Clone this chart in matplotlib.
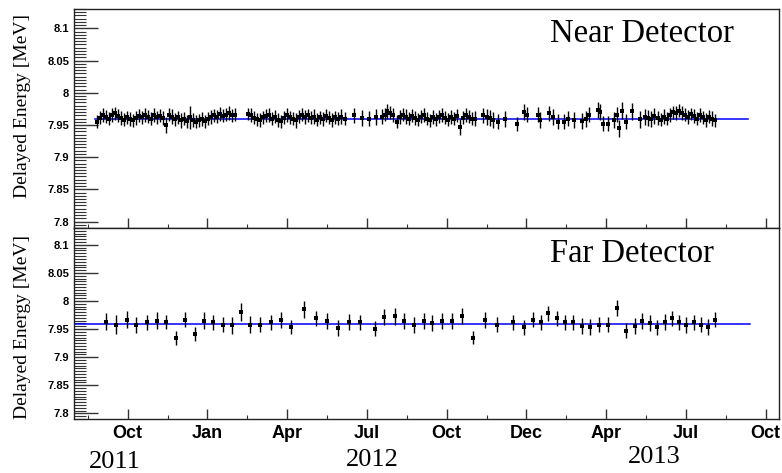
import matplotlib
matplotlib.use("Agg")
import matplotlib.pyplot as plt
from matplotlib.ticker import MultipleLocator, FixedLocator
import matplotlib.transforms as mtrans

# ---------------- data (x in months since 2011-07-01) ----------------
near_t = [1.85, 1.95, 2.08, 2.18, 2.30, 2.41, 2.51, 2.64, 2.75, 2.86, 2.97, 3.09,
          3.20, 3.31, 3.43, 3.53, 3.65, 3.77, 3.88, 3.99, 4.10, 4.22, 4.33, 4.44,
          4.55, 4.67, 4.78, 4.89, 5.01, 5.12, 5.23, 5.34, 5.46, 5.57, 5.68, 5.80,
          5.91, 6.02, 6.13, 6.25, 6.36, 6.47, 6.59, 6.70, 6.81, 6.92, 7.04,
          7.53, 7.64, 7.75, 7.86, 7.98, 8.09, 8.20, 8.32, 8.43, 8.54, 8.65, 8.77,
          8.88, 8.99, 9.11, 9.22, 9.33, 9.44, 9.56, 9.67, 9.78, 9.90, 10.01, 10.12,
          10.23, 10.35, 10.46, 10.57, 10.69, 10.80, 10.91, 11.02, 11.17,
          11.51, 11.81, 12.08, 12.34,
          12.57, 12.68, 12.75, 12.86, 12.98, 13.13, 13.24, 13.36, 13.47, 13.58,
          13.69, 13.81, 13.92, 14.03, 14.15, 14.26, 14.37, 14.48, 14.60, 14.71,
          14.82, 14.93, 15.05, 15.16, 15.27, 15.39, 15.50, 15.61, 15.73, 15.84, 15.95,
          16.06, 16.36, 16.51, 16.63, 16.74, 16.93, 17.19, 17.64, 17.91, 18.02,
          18.43, 18.51, 18.85, 19.00, 19.19, 19.41, 19.56,
          19.79, 20.09, 20.24, 20.36, 20.69, 20.77, 20.88, 21.07, 21.29, 21.41,
          21.48, 21.59, 21.74, 21.97, 22.27, 22.46, 22.57, 22.68, 22.80,
          22.95, 23.06, 23.17, 23.29, 23.40, 23.51, 23.62, 23.74, 23.85, 23.96,
          24.07, 24.19, 24.30, 24.41, 24.53, 24.64, 24.75, 24.86, 24.98, 25.09]
near_e = [7.955, 7.961, 7.966, 7.963, 7.960, 7.966, 7.968, 7.964, 7.961, 7.958, 7.962, 7.959,
          7.957, 7.961, 7.964, 7.962, 7.966, 7.963, 7.960, 7.965, 7.962, 7.964, 7.961, 7.950,
          7.966, 7.963, 7.959, 7.962, 7.957, 7.960, 7.956, 7.962, 7.958, 7.955, 7.957, 7.959,
          7.956, 7.960, 7.962, 7.965, 7.963, 7.967, 7.964, 7.966, 7.968, 7.965, 7.966,
          7.967, 7.965, 7.961, 7.959, 7.958, 7.962, 7.964, 7.966, 7.960, 7.963, 7.958, 7.956,
          7.961, 7.965, 7.962, 7.960, 7.957, 7.963, 7.966, 7.962, 7.965, 7.961, 7.963, 7.958,
          7.962, 7.959, 7.964, 7.961, 7.958, 7.962, 7.960, 7.963, 7.960,
          7.965, 7.961, 7.960, 7.962,
          7.963, 7.966, 7.971, 7.969, 7.965, 7.955, 7.962, 7.966, 7.963, 7.960,
          7.964, 7.961, 7.958, 7.963, 7.965, 7.960, 7.957, 7.962, 7.959, 7.963,
          7.966, 7.961, 7.958, 7.962, 7.960, 7.964, 7.947, 7.961, 7.966, 7.963, 7.960,
          7.960, 7.965, 7.962, 7.961, 7.958, 7.955, 7.959, 7.952, 7.970, 7.966,
          7.966, 7.958, 7.968, 7.962, 7.955, 7.955, 7.960,
          7.958, 7.956, 7.959, 7.966, 7.973, 7.970, 7.952, 7.952, 7.958, 7.966,
          7.945, 7.972, 7.955, 7.971, 7.959, 7.962, 7.961, 7.959, 7.964,
          7.961, 7.958, 7.963, 7.960, 7.966, 7.970, 7.968, 7.972, 7.969, 7.966,
          7.962, 7.967, 7.964, 7.960, 7.966, 7.962, 7.958, 7.963, 7.960, 7.957]
near_err = [0.010, 0.010, 0.011, 0.010, 0.010, 0.011, 0.010, 0.010, 0.011, 0.010, 0.010, 0.011,
            0.010, 0.011, 0.010, 0.010, 0.011, 0.010, 0.010, 0.011, 0.010, 0.010, 0.011, 0.013,
            0.010, 0.011, 0.010, 0.010, 0.011, 0.010, 0.010, 0.018, 0.011, 0.010, 0.010, 0.011,
            0.010, 0.010, 0.011, 0.010, 0.010, 0.011, 0.010, 0.010, 0.011, 0.010, 0.010,
            0.010, 0.011, 0.010, 0.010, 0.011, 0.010, 0.010, 0.011, 0.010, 0.010, 0.011, 0.010,
            0.010, 0.011, 0.010, 0.010, 0.011, 0.010, 0.010, 0.011, 0.010, 0.010, 0.011, 0.010,
            0.010, 0.011, 0.010, 0.010, 0.011, 0.010, 0.010, 0.011, 0.010,
            0.012, 0.012, 0.012, 0.012,
            0.011, 0.010, 0.011, 0.010, 0.011, 0.010, 0.011, 0.010, 0.011, 0.010,
            0.010, 0.011, 0.010, 0.010, 0.011, 0.010, 0.010, 0.011, 0.010, 0.010,
            0.011, 0.010, 0.010, 0.011, 0.010, 0.010, 0.013, 0.010, 0.011, 0.010, 0.010,
            0.012, 0.012, 0.012, 0.012, 0.012, 0.012, 0.012, 0.011, 0.012, 0.012,
            0.012, 0.012, 0.012, 0.012, 0.012, 0.012, 0.012,
            0.012, 0.012, 0.012, 0.012, 0.012, 0.012, 0.012, 0.012, 0.012, 0.012,
            0.013, 0.013, 0.012, 0.013, 0.013, 0.012, 0.012, 0.012, 0.012,
            0.011, 0.010, 0.011, 0.010, 0.011, 0.010, 0.011, 0.010, 0.011, 0.010,
            0.011, 0.010, 0.011, 0.010, 0.011, 0.010, 0.011, 0.010, 0.011, 0.010]

far_t = [2.18, 2.55, 2.96, 3.30, 3.71, 4.09, 4.43, 4.80, 5.17, 5.52, 5.88, 6.22,
         6.58, 6.93, 7.26, 7.61, 7.98, 8.40, 8.76, 9.15, 9.64, 10.07, 10.48, 10.91,
         11.33, 11.73, 12.29, 12.66, 13.06, 13.39, 13.77, 14.15, 14.45, 14.83, 15.20,
         15.59, 15.98, 16.43, 16.89, 17.51, 17.91, 18.25, 18.53, 18.81, 19.14, 19.45,
         19.75, 20.08, 20.39, 20.72, 21.07, 21.41, 21.74, 22.08, 22.35, 22.64, 22.90,
         23.20, 23.47, 23.75, 24.02, 24.30, 24.58, 24.84, 25.08]
far_e = [7.963, 7.958, 7.967, 7.957, 7.962, 7.965, 7.963, 7.934, 7.967, 7.941, 7.965, 7.962,
         7.958, 7.957, 7.981, 7.958, 7.958, 7.962, 7.966, 7.954, 7.985, 7.969, 7.965, 7.952,
         7.963, 7.962, 7.951, 7.971, 7.973, 7.964, 7.957, 7.964, 7.961, 7.964, 7.964,
         7.973, 7.935, 7.966, 7.958, 7.962, 7.953, 7.967, 7.962, 7.978, 7.969, 7.962,
         7.962, 7.955, 7.954, 7.958, 7.958, 7.988, 7.947, 7.955, 7.965, 7.961, 7.953,
         7.963, 7.969, 7.962, 7.957, 7.962, 7.958, 7.954, 7.967]
far_err = [0.015, 0.017, 0.015, 0.014, 0.014, 0.015, 0.013, 0.012, 0.014, 0.012, 0.015, 0.014,
           0.014, 0.015, 0.016, 0.015, 0.014, 0.014, 0.014, 0.013, 0.015, 0.014, 0.014, 0.014,
           0.014, 0.014, 0.013, 0.014, 0.015, 0.014, 0.014, 0.014, 0.014, 0.014, 0.014,
           0.014, 0.012, 0.014, 0.014, 0.014, 0.014, 0.014, 0.014, 0.014, 0.014, 0.014,
           0.014, 0.014, 0.014, 0.014, 0.014, 0.014, 0.013, 0.014, 0.014, 0.014, 0.013,
           0.014, 0.014, 0.014, 0.014, 0.014, 0.014, 0.014, 0.014]

fit_value = 7.959
near_fit_range = [1.77, 26.32]
far_fit_range = [1.02, 26.41]

month_ticks = [3, 6, 9, 12, 15, 18, 21, 24, 27]
month_labels = ['Oct', 'Jan', 'Apr', 'Jul', 'Oct', 'Dec', 'Apr', 'Jul', 'Oct']
minor_ticks = [1.5, 4.5, 7.5, 10.5, 13.5, 16.5, 19.5, 22.5, 25.5]
year_labels = ['2011', '2012', '2013']
year_pos = [2.52, 12.2, 22.8]
year_base_px = [468, 466, 463]

panel_titles = ['Near Detector', 'Far Detector']
ylabel = 'Delayed Energy [MeV]'

# ---------------- figure ----------------
W, H = 782, 473
fig = plt.figure(figsize=(W / 100, H / 100), dpi=100)


def rect(l, t, r, b):
    return [l / W, 1 - b / H, (r - l) / W, (b - t) / H]


ax1 = fig.add_axes(rect(74, 9, 779, 228))
ax2 = fig.add_axes(rect(74, 228, 779, 419))

sans = 'Liberation Sans'
serif = 'Liberation Serif'

for ax, t, e, er, fr in [(ax1, near_t, near_e, near_err, near_fit_range),
                         (ax2, far_t, far_e, far_err, far_fit_range)]:
    ax.errorbar(t, e, yerr=er, fmt='s', color='black', ms=2.2, mew=0,
                elinewidth=1.0, capsize=1.8, capthick=1.0, zorder=3)
    ax.plot(fr, [fit_value, fit_value], color='#0000ff', lw=1.1, zorder=2)
    ax.set_xlim(0.98, 27.50)
    ax.set_ylim(7.79, 8.13)
    ax.xaxis.set_major_locator(FixedLocator(month_ticks))
    ax.xaxis.set_minor_locator(FixedLocator(minor_ticks))
    ax.yaxis.set_major_locator(MultipleLocator(0.05))
    ax.yaxis.set_minor_locator(MultipleLocator(0.005))
    ax.tick_params(axis='y', which='major', direction='in', length=17, width=1.0,
                   color='#333333', pad=3.5, labelsize=8)
    ax.tick_params(axis='y', which='minor', direction='in', length=8.5, width=0.8,
                   color='#333333')
    ax.tick_params(axis='x', which='major', direction='in', length=7, width=1.0,
                   color='#333333', pad=4, labelsize=13)
    ax.tick_params(axis='x', which='minor', direction='in', length=3.2, width=0.8,
                   color='#333333')
    ax.tick_params(right=False, top=False, which='both')
    for s in ax.spines.values():
        s.set_linewidth(1.0)
        s.set_color('#222222')
    ax.set_yticks([7.8, 7.85, 7.9, 7.95, 8.0, 8.05, 8.1])
    ax.set_yticklabels(['7.8', '7.85', '7.9', '7.95', '8', '8.05', '8.1'],
                       fontfamily=sans, fontweight='bold')

ax1.set_xticklabels([])
ax2.set_xticklabels(month_labels, fontfamily=sans, fontweight='bold')

# panel titles
fig.text(550 / W, 1 - 42 / H, panel_titles[0], fontfamily=serif, fontsize=23.5,
         ha='left', va='baseline')
fig.text(550 / W, 1 - 262 / H, panel_titles[1], fontfamily=serif, fontsize=23.5,
         ha='left', va='baseline')

# y labels
fig.text(23 / W, 1 - 106 / H, ylabel, fontfamily=serif, fontsize=14,
         rotation=90, ha='center', va='center')
fig.text(23 / W, 1 - 327 / H, ylabel, fontfamily=serif, fontsize=14,
         rotation=90, ha='center', va='center')

# year labels
trans = mtrans.blended_transform_factory(ax2.transData, fig.transFigure)
for lab, xp, yb in zip(year_labels, year_pos, year_base_px):
    fig.text(xp, 1 - yb / H, lab, transform=trans, fontfamily=serif,
             fontsize=19, ha='center', va='baseline')

fig.savefig('out.png', dpi=100)
